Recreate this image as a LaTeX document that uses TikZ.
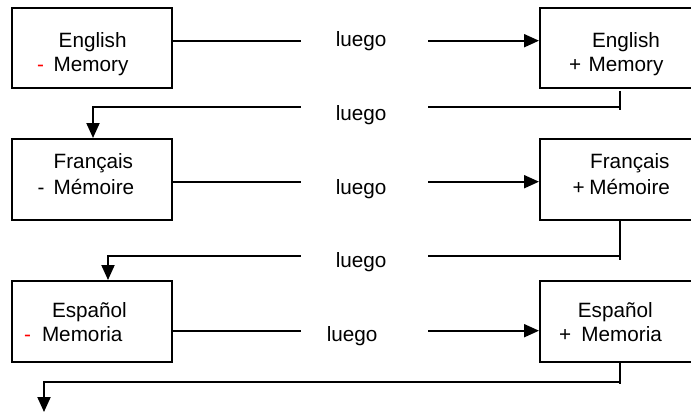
\documentclass[tikz,border=0pt]{standalone}
\usepackage{fontspec}
\setmainfont{Liberation Sans}
\usetikzlibrary{arrows.meta}
\tikzset{
  box/.style={draw, line width=2pt, minimum width=160pt, minimum height=80pt, inner sep=0pt},
  txt/.style={anchor=base west, inner sep=0pt, font=\fontsize{20.7pt}{24pt}\selectfont},
  conn/.style={line width=2pt},
  arr/.style={conn, -{Triangle[length=15pt,width=13pt]}}
}
\begin{document}
\begin{tikzpicture}[x=1pt,y=-1pt]
\useasboundingbox (0,0) rectangle (691,412);
% boxes
\node[box] (b1) at (92,48) {};
\node[box] (b2) at (620,48) {};
\node[box, minimum height=81pt] (b3) at (92,179.5) {};
\node[box, minimum height=81pt] (b4) at (620,179.5) {};
\node[box, minimum height=81pt] (b5) at (92,321.5) {};
\node[box, minimum height=81pt] (b6) at (620,321.5) {};
% box texts
\node[txt] (t1a) at (58.5,48) {English};
\node[txt, text=red] (t1m) at (36.8,72) {-};
\node[txt] (t1b) at (53.5,72) {Memory};
\node[txt] (t2a) at (591.8,48) {English};
\node[txt] (t2p) at (569,72) {+};
\node[txt] (t2b) at (588.5,72) {Memory};
\node[txt] (t3a) at (53.5,168) {Français};
\node[txt] (t3m) at (37.4,194) {-};
\node[txt] (t3b) at (53.5,194) {Mémoire};
\node[txt] (t4a) at (590,168) {Français};
\node[txt] (t4p) at (572.3,194) {+};
\node[txt] (t4b) at (589.2,194) {Mémoire};
\node[txt] (t5a) at (51.8,317) {Español};
\node[txt, text=red] (t5m) at (24,341.7) {-};
\node[txt] (t5b) at (41.8,341.7) {Memoria};
\node[txt] (t6a) at (577.7,317) {Español};
\node[txt] (t6p) at (559,341.7) {+};
\node[txt] (t6b) at (581.2,341.7) {Memoria};
% luego labels
\node[txt] (l1) at (335.6,46.7) {luego};
\node[txt] (l2) at (335.6,120) {luego};
\node[txt] (l3) at (335.6,194.3) {luego};
\node[txt] (l4) at (335.6,267.7) {luego};
\node[txt] (l5) at (326.6,341) {luego};
% connector coordinates
\coordinate (a1) at (300.7,40.7);  \coordinate (c1) at (428.3,40.7);
\coordinate (a2) at (300.7,107);   \coordinate (c2) at (428.3,107);
\coordinate (k2) at (620,107);     \coordinate (s2) at (620,109.5);
\coordinate (a3) at (300.7,181.7); \coordinate (c3) at (428.3,181.7);
\coordinate (a4) at (300.7,255.7); \coordinate (c4) at (428.3,255.7);
\coordinate (k4) at (620,255.7);   \coordinate (s4) at (620,260);
\coordinate (a5) at (300.7,330.7); \coordinate (c5) at (428.3,330.7);
\coordinate (k6) at (620,381.7);   \coordinate (s6) at (620,384);
\coordinate (e6) at (44,412);
% row 1
\draw[conn] (b1.east |- a1) -- (a1);
\draw[arr] (c1) -- (b2.west |- c1);
% row 2
\draw[conn] ([yshift=-2pt]b2.south) -- (s2);
\draw[conn] (k2) -- (c2);
\draw[arr] (a2) -| ([xshift=1pt]b3.north);
% row 3
\draw[conn] (b3.east |- a3) -- (a3);
\draw[arr] (c3) -- (b4.west |- c3);
% row 4
\draw[conn] (b4.south) -- (s4);
\draw[conn] (k4) -- (c4);
\draw[arr] (a4) -| ([xshift=16pt]b5.north);
% row 5
\draw[conn] (b5.east |- a5) -- (a5);
\draw[arr] (c5) -- (b6.west |- c5);
% row 6
\draw[conn] (b6.south) -- (s6);
\draw[arr] (k6) -| (e6);
\end{tikzpicture}
\end{document}
